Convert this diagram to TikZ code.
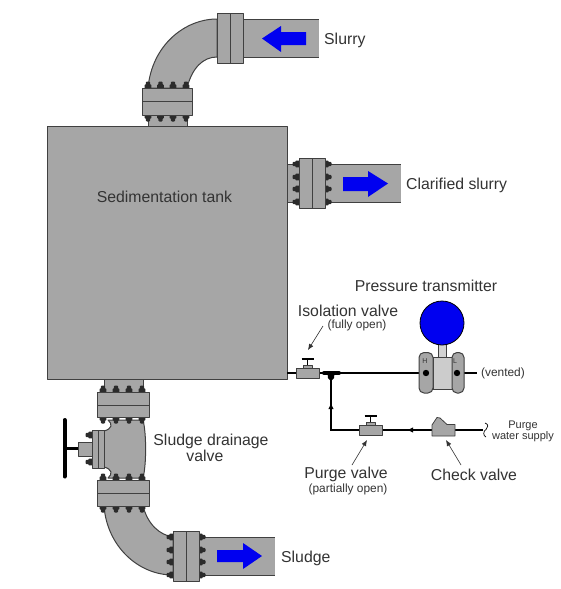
\documentclass[tikz,border=0pt]{standalone}
\usepackage{fontspec}
\setmainfont{Liberation Sans}
\usetikzlibrary{arrows.meta}
\definecolor{steel}{HTML}{A6A6A6}
\definecolor{edge}{HTML}{404040}
\definecolor{nutc}{HTML}{2B2B2B}
\definecolor{lbl}{HTML}{333333}
\definecolor{flow}{HTML}{0000F0}
\tikzset{
  x=1pt,y=-1pt,
  metal/.style={fill=steel,draw=edge,line width=1pt,line join=round},
  pipeedge/.style={draw=edge,line width=1pt},
  flowarrow/.style={fill=flow,draw=none},
  tube/.style={draw=black,line width=1.6pt},
  handle/.style={draw=black,line width=1.6pt},
  lab/.style={text=lbl,font=\fontsize{15.8}{18}\selectfont,align=center,inner sep=0pt},
  sublab/.style={text=lbl,font=\fontsize{11.9}{13}\selectfont,align=center,inner sep=0pt},
  callout/.style={draw=lbl,line width=.6pt,-{Latex[length=6pt,width=5pt]}},
  nutv/.pic={\fill[nutc] (-3.4,0.5)--(-3.4,-3)--(-2.3,-3.6)--(-2,-5.6)--(-1,-6.5)--(1,-6.5)--(2,-5.6)--(2.3,-3.6)--(3.4,-3)--(3.4,0.5)--cycle;},
  nuth/.pic={\fill[nutc] (0.5,-3.4)--(-3,-3.4)--(-3.6,-2.3)--(-5.6,-2)--(-6.5,-1)--(-6.5,1)--(-5.6,2)--(-3.6,2.3)--(-3,3.4)--(0.5,3.4)--cycle;},
}
\newcommand\rowbolts[2]{%
  \foreach \bx in {#1}{\pic at (\bx,#2) {nutv};}}
\newcommand\rowboltsdn[2]{%
  \foreach \bx in {#1}{\pic[yscale=-1] at (\bx,#2) {nutv};}}
\newcommand\colboltsl[2]{%
  \foreach \by in {#2}{\pic at (#1,\by) {nuth};}}
\newcommand\colboltsr[2]{%
  \foreach \by in {#2}{\pic[xscale=-1] at (#1,\by) {nuth};}}
\newcommand\gatevalve[3]{% left x, right x, mid y
  \pgfmathsetmacro\vm{(#1+#2)/2}
  \draw[handle] (\vm,#3-5) -- (\vm,#3-14);
  \draw[black,line width=2.2pt] (\vm-6,#3-14) -- (\vm+6,#3-14);
  \draw[metal,line width=.6pt] (\vm-4.5,#3-8) rectangle (\vm+4.5,#3-5);
  \draw[metal,line width=.8pt] (#1,#3-5) rectangle (#2,#3+5);
}
\begin{document}
\begin{tikzpicture}
\useasboundingbox (0,0) rectangle (560,589);
\fill[white] (0,0) rectangle (560,589);

% top elbow
\draw[metal] (148,88) .. controls (152,45) and (185,19) .. (217,19) -- (217,57)
  .. controls (203,57) and (192,68) .. (187,88) -- cycle;
\rowbolts{148,160.5,173,186}{88}
\fill[steel] (243,19) rectangle (319,57);
\draw[pipeedge] (243,19) -- (319,19) (243,57) -- (319,57);
\draw[metal] (217,13) rectangle (243,63);
\draw[pipeedge] (230,13) -- (230,63);
\draw[metal] (148,115) rectangle (187,126);
\rowboltsdn{148,160.5,173,186}{115}
\draw[metal] (142,88) rectangle (192,115);
\draw[pipeedge] (142,101) -- (192,101);
\fill[flowarrow] (262,38.5) -- (281,26) -- (281,32) -- (306,32) -- (306,45) -- (281,45) -- (281,52) -- cycle;

% right outlet
\draw[metal] (287,164) rectangle (299,202);
\fill[steel] (325,164) rectangle (401,202);
\draw[pipeedge] (325,164) -- (401,164) (325,202) -- (401,202);
\colboltsl{299}{164,177,189,202}
\colboltsr{325}{164,177,189,202}
\draw[metal] (299,158) rectangle (325,208);
\draw[pipeedge] (312,158) -- (312,208);
\fill[flowarrow] (388,183.5) -- (368,171) -- (368,177) -- (343,177) -- (343,191) -- (368,191) -- (368,197) -- cycle;

% bottom stub under tank
\draw[metal] (104,379) rectangle (143,392);
\rowbolts{103,116,129,142}{392}
% sludge valve body
\draw[metal] (108,420) .. controls (113,424) and (112,429) .. (104,431)
  -- (104,467) .. controls (112,469) and (113,474) .. (108,478)
  -- (143,478) .. controls (146.5,465) and (146.5,433) .. (143,420) -- cycle;
\rowboltsdn{103,116,129,142}{417}
\draw[metal] (97,392) rectangle (149,417);
\draw[pipeedge] (97,405) -- (149,405);

% tank
\draw[metal] (47,126) rectangle (287,379);

% bonnet and handwheel
\colboltsl{92}{435,449,462}
\draw[metal] (78,442) rectangle (92,456);
\draw[metal] (92,430) rectangle (104,468);
\draw[pipeedge] (98,430) -- (98,468);
\draw[black,line width=2.6pt] (64.5,448.5) -- (78,448.5);
\draw[black,line width=4pt,line cap=round] (64.5,420) -- (64.5,476.5);

% lower elbow
\draw[metal] (104,506) .. controls (107,546) and (138,575) .. (173,575) -- (173,537)
  .. controls (160,535) and (148,525) .. (143,506) -- cycle;
\rowbolts{103,116,129,142}{480}
\rowboltsdn{103,116,129,142}{506}
\colboltsl{173}{537,550,562,575}
\draw[metal] (97,480) rectangle (149,506);
\draw[pipeedge] (97,493) -- (149,493);
\fill[steel] (199,537) rectangle (275,575);
\draw[pipeedge] (199,537) -- (275,537) (199,575) -- (275,575);
\colboltsr{199}{537,550,562,575}
\draw[metal] (173,531) rectangle (199,581);
\draw[pipeedge] (186,531) -- (186,581);
\fill[flowarrow] (262,556) -- (243,543) -- (243,550) -- (217,550) -- (217,562) -- (243,562) -- (243,569) -- cycle;

% impulse lines
\coordinate (teeL) at (324,373);
\coordinate (teeR) at (339,373);
\coordinate (teeD) at (331,373);
\coordinate (corner) at (331,430);
\coordinate (supply) at (483,430);
\coordinate (hport) at (426,373);
\coordinate (lport) at (457,373);
\coordinate (ventend) at (477,373);
\coordinate (tankport) at (287,373);
\draw[tube] (tankport) -- (hport);
\draw[black,line width=4pt,line cap=round] (teeL) -- (teeR);
\draw[tube] (teeD) -- (corner) -- (supply);
\fill[black] (327.5,373) -- (334.5,373) -- (334,378) -- (331,381) -- (328,378) -- cycle;
\fill[black] (331,404) -- (333.6,409) -- (328.4,409) -- cycle;
\fill[black] (408,430) -- (413,427.4) -- (413,432.6) -- cycle;
\draw[tube] (lport) -- (ventend);
\draw[draw=black,line width=.7pt] (485,423) .. controls (489,424) and (488,428) .. (486,429.5) .. controls (483,431) and (483,436) .. (486,437);

% valves
\gatevalve{296}{319}{373}
\gatevalve{359}{382}{430}
\draw[metal,line width=.8pt] (432,436) -- (432,425) -- (437,417.5) -- (440,418) -- (447,424.5) -- (455,424.5) -- (455,436) -- cycle;

% transmitter
\draw[fill=lightgray!70,draw=edge,line width=.6pt] (438,344) rectangle (446,357);
\draw[fill=lightgray!80,draw=edge,line width=.8pt] (433,357) rectangle (452,389);
\draw[metal,rounded corners=5pt] (419,352.5) rectangle (433,393);
\draw[metal,rounded corners=5pt] (452,352.5) rectangle (464,393);
\draw[fill=flow,draw=black,line width=.8pt] (442,323) circle (22);
\fill[black] (hport) circle (3.2) (lport) circle (3.2);
\node[inner sep=0pt,text=lbl,font=\fontsize{7}{7}\selectfont] (hmark) at (425,361) {H};
\node[inner sep=0pt,text=lbl,font=\fontsize{7}{7}\selectfont] (lmark) at (455,361) {L};

% labels
\node[lab,anchor=base west] (slurry) at (324,44.5) {Slurry};
\node[lab,anchor=base west] (clarified) at (406,189.5) {Clarified slurry};
\node[lab] (tank) at (164.5,197) {Sedimentation tank};
\node[lab] (ptx) at (426,286) {Pressure transmitter};
\node[lab] (iso) at (348,311) {Isolation valve};
\node[sublab] (isosub) at (357,325.5) {(fully open)};
\node[lab,align=left,font=\fontsize{15.8}{15.5}\selectfont] (sludgevalve) at (211,448) {Sludge drainage\\\hspace*{33pt}valve};
\node[lab,anchor=base west] (sludge) at (281,562) {Sludge};
\node[lab] (purgev) at (346,474.5) {Purge valve};
\node[sublab] (purgesub) at (348,489.5) {(partially open)};
\node[lab] (check) at (474,475) {Check valve};
\node[sublab] (vented) at (503,373) {(vented)};
\node[text=lbl,font=\fontsize{11}{9}\selectfont,align=center,inner sep=0pt] (water) at (523,431.5) {Purge\\water supply};

% callouts
\coordinate (isoA) at (323,326);
\coordinate (isoB) at (308,350);
\coordinate (purgeA) at (352,465);
\coordinate (purgeB) at (367,440);
\coordinate (checkA) at (461,465);
\coordinate (checkB) at (446,440);
\draw[callout] (isoA) -- (isoB);
\draw[callout] (purgeA) -- (purgeB);
\draw[callout] (checkA) -- (checkB);
\end{tikzpicture}
\end{document}
